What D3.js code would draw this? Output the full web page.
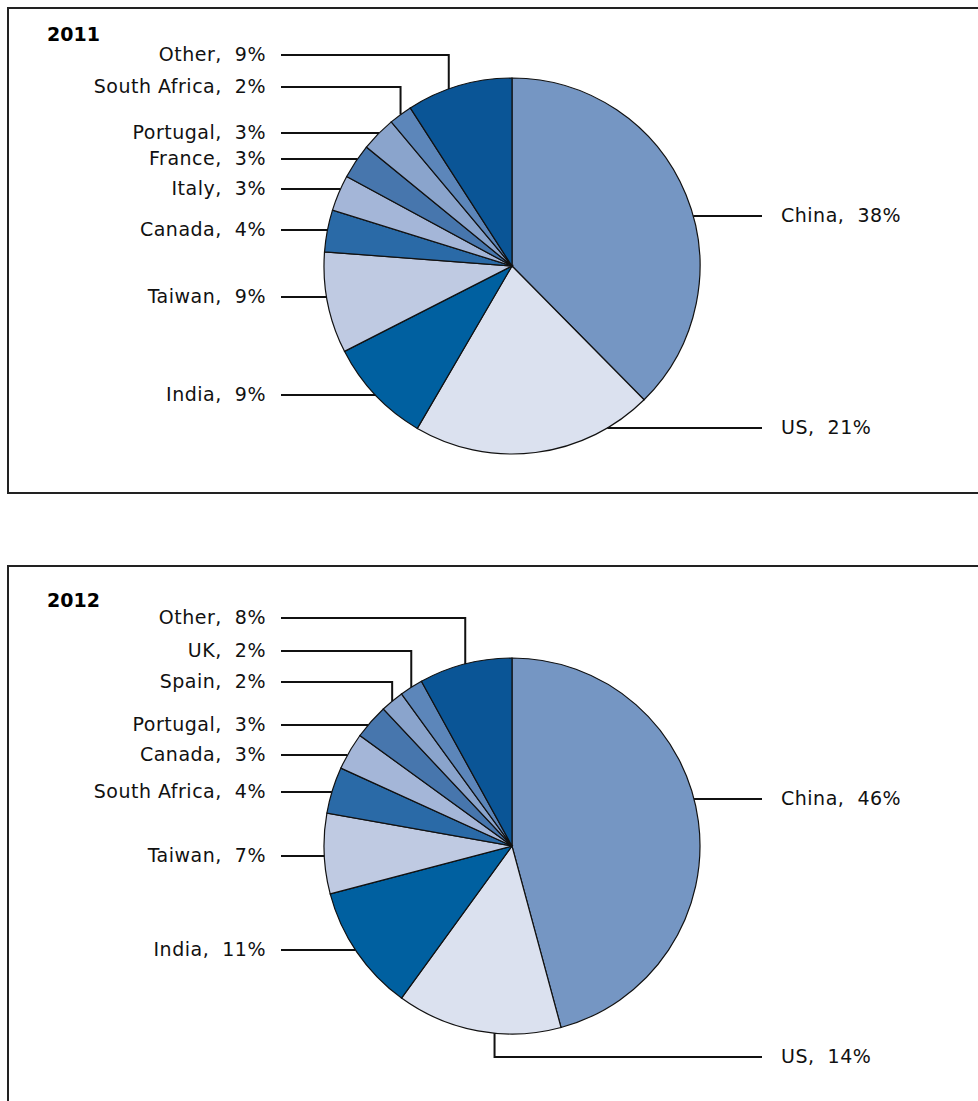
<!DOCTYPE html>
<html>
<head>
<meta charset="utf-8">
<style>
  body { margin: 0; background: #fff; }
  svg { display: block; }
  .frame { fill: none; stroke: #222; stroke-width: 2; }
  .slice { stroke: #111; stroke-width: 1.2; }
  .leader { fill: none; stroke: #111; stroke-width: 2; }
  .lbl { font: 19px "DejaVu Sans", sans-serif; letter-spacing: 0.5px; fill: #111; white-space: pre; }
  .title { font: bold 19px "DejaVu Sans", sans-serif; fill: #000; }
</style>
</head>
<body>
<svg width="978" height="1101"></svg>
<script src="https://cdn.jsdelivr.net/npm/d3@7"></script>
<script>

// 2011 shares (clockwise from 12 o'clock)
var names2011  = ["China", "US", "India", "Taiwan", "Canada", "Italy", "France", "Portugal", "South Africa", "Other"];
var shares2011 = [37.6, 20.8, 9.1, 8.7, 3.6, 3.1, 3.0, 3.0, 2.0, 9.1];
var pct2011    = ["38%", "21%", "9%", "9%", "4%", "3%", "3%", "3%", "2%", "9%"];

// 2012 shares
var names2012  = ["China", "US", "India", "Taiwan", "South Africa", "Canada", "Portugal", "Spain", "UK", "Other"];
var shares2012 = [45.8, 14.2, 10.9, 6.9, 4.0, 3.2, 3.0, 2.0, 2.0, 8.0];
var pct2012    = ["46%", "14%", "11%", "7%", "4%", "3%", "3%", "2%", "2%", "8%"];

// colours go by slice position
var palette = ["#7596c3", "#dbe1ef", "#0060a0", "#bfcae2", "#2a6aa7",
               "#a4b6d8", "#4776ad", "#8aa4cc", "#5c86ba", "#0a5596"];

// label layout: y of label, leader kind (h = straight, e = elbow), side,
// at = where along the slice the elbow meets the rim
var layout2011 = [
  {y: 216, kind: "h", side: "R"}, {y: 428, kind: "h", side: "R"},
  {y: 395, kind: "h", side: "L"}, {y: 297, kind: "h", side: "L"},
  {y: 230, kind: "h", side: "L"}, {y: 189, kind: "h", side: "L"},
  {y: 159, kind: "h", side: "L"}, {y: 133, kind: "h", side: "L"},
  {y: 87,  kind: "e", side: "L"}, {y: 55,  kind: "e", side: "L", at: 0.4}
];
var layout2012 = [
  {y: 799, kind: "h", side: "R"}, {y: 1057, kind: "e", side: "R", at: 0.4},
  {y: 950, kind: "h", side: "L"}, {y: 856, kind: "h", side: "L"},
  {y: 792, kind: "h", side: "L"}, {y: 755, kind: "h", side: "L"},
  {y: 725, kind: "h", side: "L"}, {y: 682, kind: "e", side: "L"},
  {y: 651, kind: "e", side: "L"}, {y: 618, kind: "e", side: "L"}
];

var svg = d3.select("svg");
var r = 188;
var cx = 512;
var leftEnd = 281, leftText = 266, rightEnd = 762, rightText = 781;

var pie = d3.pie().sort(null).value(function(d) { return d.v; });
var arc = d3.arc().innerRadius(0).outerRadius(r);

function drawPanel(top, bottom, title, titleY, cy, names, shares, pcts, layout) {
  svg.append("rect")
    .attr("class", "frame")
    .attr("x", 8).attr("y", top)
    .attr("width", 1100).attr("height", bottom - top);

  svg.append("text")
    .attr("class", "title")
    .attr("x", 47).attr("y", titleY)
    .attr("dominant-baseline", "middle")
    .text(title);

  var data = names.map(function(n, i) {
    return {name: n, v: shares[i], pct: pcts[i], lay: layout[i], i: i};
  });
  var arcs = pie(data);

  var g = svg.append("g").attr("transform", "translate(" + cx + "," + cy + ")");
  g.selectAll(".slice")
    .data(arcs)
    .enter().append("path")
    .attr("class", "slice")
    .attr("d", arc)
    .attr("fill", function(d) { return palette[d.data.i]; });

  arcs.forEach(function(a) {
    var lay = a.data.lay;
    var t = lay.at == null ? 0.5 : lay.at;
    var mid = a.startAngle + (a.endAngle - a.startAngle) * t;
    var ly = lay.y - cy;
    var sx = lay.side === "L" ? leftEnd - cx : rightEnd - cx;
    var pts;
    if (lay.kind === "h") {
      var dx = Math.sqrt(Math.max(0, r * r - ly * ly));
      pts = [[sx, ly], [lay.side === "L" ? -dx : dx, ly]];
    } else {
      var px = r * Math.sin(mid), py = -r * Math.cos(mid);
      pts = [[sx, ly], [px, ly], [px, py]];
    }
    g.append("path")
      .attr("class", "leader")
      .attr("d", d3.line()(pts));

    svg.append("text")
      .attr("class", "lbl")
      .attr("x", lay.side === "L" ? leftText : rightText)
      .attr("y", lay.y)
      .attr("dominant-baseline", "middle")
      .attr("text-anchor", lay.side === "L" ? "end" : "start")
      .text(a.data.name + ",  " + a.data.pct);
  });
}

drawPanel(8, 493, "2011", 35, 266, names2011, shares2011, pct2011, layout2011);
drawPanel(566, 1200, "2012", 601, 846, names2012, shares2012, pct2012, layout2012);

</script>
</body>
</html>
